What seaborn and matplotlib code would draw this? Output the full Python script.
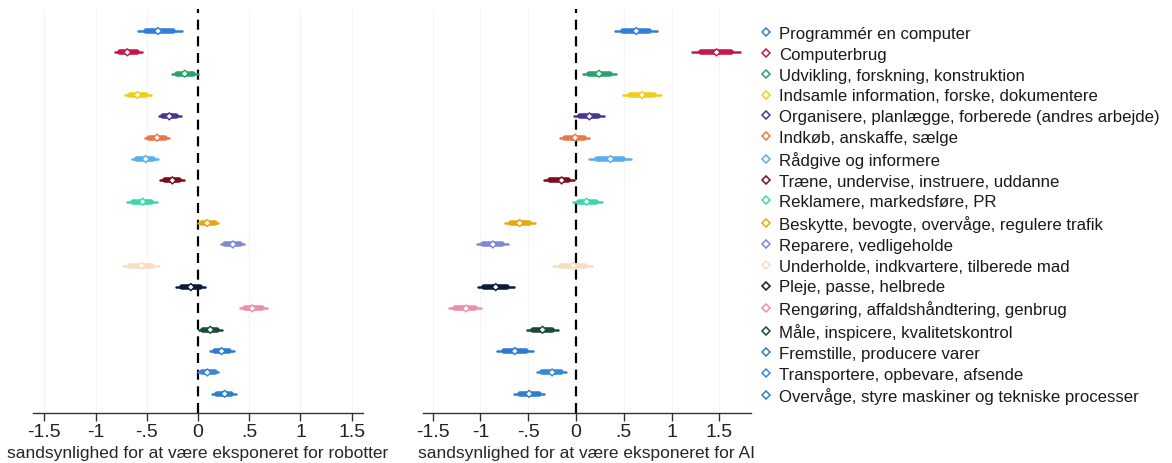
import matplotlib
matplotlib.use("Agg")
import matplotlib.pyplot as plt
from matplotlib.lines import Line2D
import seaborn as sns
import pandas as pd
import numpy as np

tasks = [
    "Programmér en computer",
    "Computerbrug",
    "Udvikling, forskning, konstruktion",
    "Indsamle information, forske, dokumentere",
    "Organisere, planlægge, forberede (andres arbejde)",
    "Indkøb, anskaffe, sælge",
    "Rådgive og informere",
    "Træne, undervise, instruere, uddanne",
    "Reklamere, markedsføre, PR",
    "Beskytte, bevogte, overvåge, regulere trafik",
    "Reparere, vedligeholde",
    "Underholde, indkvartere, tilberede mad",
    "Pleje, passe, helbrede",
    "Rengøring, affaldshåndtering, genbrug",
    "Måle, inspicere, kvalitetskontrol",
    "Fremstille, producere varer",
    "Transportere, opbevare, afsende",
    "Overvåge, styre maskiner og tekniske processer",
]

colors = [
    "#2f7fd8", "#c4174c", "#27a56c", "#f0cf1a", "#4a3594", "#e8794a",
    "#56b0ea", "#7d0a1e", "#3ad8a8", "#e8a614", "#7b8ad8", "#f6dfc0",
    "#0c1a3f", "#ec8fab", "#1b4a37", "#2d7bd0", "#3788d6", "#2f80c8",
]

# Robots: estimate and confidence interval
robot_est = [-0.39, -0.69, -0.13, -0.59, -0.28, -0.40, -0.51, -0.25, -0.54,
             0.09, 0.34, -0.55, -0.07, 0.53, 0.12, 0.23, 0.09, 0.26]
robot_lo = [-0.59, -0.81, -0.25, -0.71, -0.38, -0.52, -0.64, -0.37, -0.69,
            0.00, 0.22, -0.73, -0.21, 0.41, 0.01, 0.12, 0.00, 0.14]
robot_hi = [-0.16, -0.55, 0.00, -0.46, -0.17, -0.28, -0.39, -0.14, -0.40,
            0.20, 0.45, -0.38, 0.07, 0.67, 0.23, 0.35, 0.20, 0.37]

# AI: estimate and confidence interval
ai_est = [0.63, 1.47, 0.24, 0.69, 0.14, -0.01, 0.36, -0.15, 0.11,
          -0.59, -0.87, -0.03, -0.84, -1.15, -0.35, -0.64, -0.25, -0.49]
ai_lo = [0.41, 1.21, 0.07, 0.49, -0.02, -0.17, 0.14, -0.33, -0.03,
         -0.74, -1.04, -0.24, -1.03, -1.33, -0.51, -0.83, -0.41, -0.65]
ai_hi = [0.85, 1.72, 0.42, 0.89, 0.29, 0.14, 0.58, -0.02, 0.27,
         -0.43, -0.71, 0.17, -0.65, -0.99, -0.19, -0.45, -0.10, -0.33]

tick_vals = [-1.5, -1, -0.5, 0, 0.5, 1, 1.5]
tick_labels = ["-1.5", "-1", "-.5", "0", ".5", "1", "1.5"]

xlabel_robot = "sandsynlighed for at være eksponeret for robotter"
xlabel_ai = "sandsynlighed for at være eksponeret for AI"

sns.set_theme(style="white")
plt.rcParams["font.family"] = ["Liberation Sans", "DejaVu Sans"]

W, H = 1172, 464
fig = plt.figure(figsize=(W / 100, H / 100), dpi=100)
bottom = (H - 414) / H
height = 404 / H
ax1 = fig.add_axes([33 / W, bottom, 330 / W, height])
ax2 = fig.add_axes([423 / W, bottom, 328 / W, height])

ypos = list(range(1, len(tasks) + 1))
palette = dict(zip(tasks, colors))


def draw_panel(ax, est, lo, hi, xlim, xlabel):
    df = pd.DataFrame({"task": tasks, "y": ypos, "est": est, "lo": lo, "hi": hi})
    for v in tick_vals:
        ax.axvline(v, color="#f4f4f4", lw=0.8, zorder=0)
    ax.axvline(0, color="black", lw=1.6, ls=(0, (4.5, 3)), zorder=1)
    for _, r in df.iterrows():
        c = palette[r["task"]]
        half = (r["hi"] - r["lo"]) / 2
        mid = (r["hi"] + r["lo"]) / 2
        ax.plot([r["lo"], r["hi"]], [r["y"], r["y"]], color=c, lw=1.8,
                solid_capstyle="round", zorder=2)
        ax.plot([mid - 0.62 * half, mid + 0.62 * half], [r["y"], r["y"]],
                color=c, lw=4.0, solid_capstyle="round", zorder=2)
    sns.scatterplot(data=df, x="est", y="y", hue="task", palette=palette,
                    marker="D", s=13, legend=False, ax=ax, zorder=3,
                    linewidth=1.0)
    pts = ax.collections[-1]
    fc = pts.get_facecolors()
    pts.set_edgecolors(fc)
    pts.set_facecolors("white")
    ax.set_xlim(*xlim)
    ax.set_ylim(18.9, -0.03)
    ax.set_xticks(tick_vals)
    ax.set_xticklabels(tick_labels, fontsize=14)
    ax.set_yticks([])
    ax.set_ylabel("")
    ax.set_xlabel(xlabel, fontsize=12.5, labelpad=4)
    for s in ["top", "right", "left"]:
        ax.spines[s].set_visible(False)
    ax.spines["bottom"].set_color("#333333")
    ax.spines["bottom"].set_linewidth(1.0)
    ax.tick_params(axis="x", bottom=True, direction="out", length=6,
                   width=1.0, color="#333333", pad=1, labelcolor="#222222")


draw_panel(ax1, robot_est, robot_lo, robot_hi, (-1.61, 1.61), xlabel_robot)
draw_panel(ax2, ai_est, ai_lo, ai_hi, (-1.6, 1.83), xlabel_ai)

handles = [Line2D([], [], marker="D", ls="", mfc="white", mec=c, ms=4.0,
                  mew=1.1) for c in colors]
leg = ax2.legend(handles, tasks, loc="upper left",
                 bbox_to_anchor=(1.0 + 9 / 328, 1.0 - 17 / 404),
                 frameon=False, fontsize=12.1, labelspacing=0.345,
                 handlelength=0.75, handletextpad=0.4, borderaxespad=0.0,
                 borderpad=0.0)
for t in leg.get_texts():
    t.set_color("#1a1a1a")

fig.savefig("out.png", dpi=100, facecolor="white")
